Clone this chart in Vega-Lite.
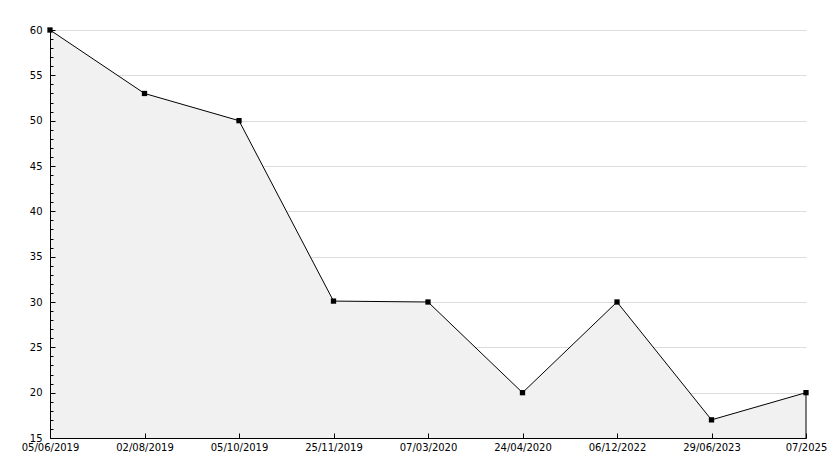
{
  "$schema": "https://vega.github.io/schema/vega-lite/v6.json",
  "autosize": "none",
  "width": 756,
  "height": 408,
  "padding": {"left": 50, "top": 30, "right": 28, "bottom": 30},
  "background": "white",
  "config": {
    "view": {"stroke": null},
    "axis": {"labelFont": "DejaVu Sans", "labelFontSize": 10, "labelColor": "black", "domainColor": "black", "tickColor": "black", "titleFont": "DejaVu Sans"}
  },
  "data": {
    "values": [
      {"date": "05/06/2019", "value": 60},
      {"date": "02/08/2019", "value": 53},
      {"date": "05/10/2019", "value": 50},
      {"date": "25/11/2019", "value": 30.1},
      {"date": "07/03/2020", "value": 30},
      {"date": "24/04/2020", "value": 20},
      {"date": "06/12/2022", "value": 30},
      {"date": "29/06/2023", "value": 17},
      {"date": "07/2025", "value": 20}
    ]
  },
  "encoding": {
    "x": {
      "field": "date", "type": "ordinal", "sort": null,
      "scale": {"type": "point", "padding": 0},
      "axis": {"title": null, "labelAngle": 0, "tickSize": -5, "labelPadding": 9, "grid": false, "domainWidth": 1, "zindex": 2}
    }
  },
  "layer": [
    {
      "mark": {"type": "area", "color": "#f1f1f1", "opacity": 1},
      "encoding": {
        "y": {"field": "value", "type": "quantitative", "scale": {"domain": [15, 60], "zero": false, "nice": false},
          "axis": {"title": null, "orient": "left", "values": [15,20,25,30,35,40,45,50,55,60], "ticks": false, "labels": false, "domain": false, "grid": true, "gridColor": "#dcdcdc", "gridWidth": 1, "zindex": 0}},
        "y2": {"datum": 15}
      }
    },
    {
      "mark": {"type": "line", "color": "black", "strokeWidth": 1},
      "encoding": {
        "y": {"field": "value", "type": "quantitative",
          "axis": {"title": null, "orient": "left", "values": [16,17,18,19,21,22,23,24,26,27,28,29,31,32,33,34,36,37,38,39,41,42,43,44,46,47,48,49,51,52,53,54,56,57,58,59], "tickSize": -3, "labels": false, "grid": false, "domain": false, "zindex": 2}}
      }
    },
    {
      "mark": {"type": "point", "shape": "square", "filled": true, "color": "black", "size": 28, "opacity": 1},
      "encoding": {
        "y": {"field": "value", "type": "quantitative",
          "axis": {"title": null, "orient": "left", "values": [15,20,25,30,35,40,45,50,55,60], "tickSize": -5, "labelPadding": 13, "grid": false, "domain": true, "zindex": 2}}
      }
    },
    {
      "transform": [{"filter": "datum.date === '07/2025'"}],
      "mark": {"type": "rule", "color": "black", "strokeWidth": 1},
      "encoding": {
        "y": {"field": "value", "type": "quantitative", "axis": null},
        "y2": {"datum": 15}
      }
    }
  ],
  "resolve": {"axis": {"y": "independent"}}
}
